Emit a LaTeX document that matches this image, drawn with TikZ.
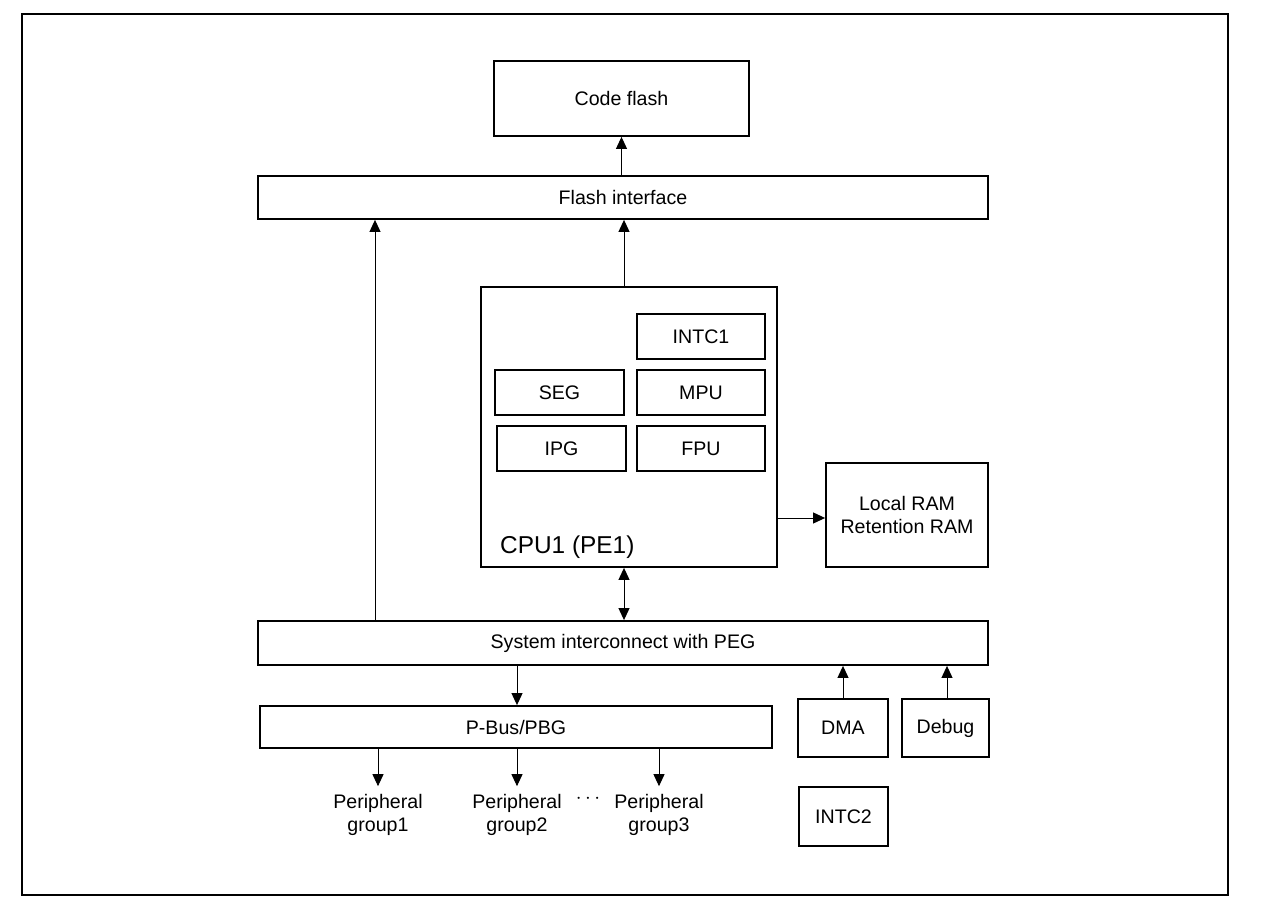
\documentclass[tikz,border=0pt]{standalone}
\usepackage{fontspec}
\setmainfont{Liberation Sans}
\usetikzlibrary{arrows.meta}
\begin{document}
\begin{tikzpicture}[x=1pt,y=-1pt,
  box/.style={draw,line width=1.8pt,inner sep=0pt,font=\fontsize{19.6}{23}\selectfont,align=center},
  ibox/.style={draw,line width=1.4pt,inner sep=0pt,font=\fontsize{19.6}{23}\selectfont,align=center},
  conn/.style={line width=1pt,-{Triangle[length=12pt,width=11pt]}},
  dconn/.style={line width=1pt,{Triangle[length=12pt,width=11pt]}-{Triangle[length=12pt,width=11pt]}},
  lbl/.style={font=\fontsize{19.6}{23}\selectfont,align=center,inner sep=0pt}]
\useasboundingbox (0,0) rectangle (1264,917);
\draw[line width=2pt] (22,14) rectangle (1228,895);
% boxes
\node[box,minimum width=255pt,minimum height=75pt] (cf) at (621.5,98.5) {Code flash};
\node[box,minimum width=730pt,minimum height=43pt] (fi) at (623,197.5) {Flash interface};
\node[box,minimum width=296pt,minimum height=280pt] (cpu) at (629,427) {};
\node[font=\fontsize{24.4}{28}\selectfont,anchor=base west,inner sep=0pt] (cpul) at (500,553) {CPU1 (PE1)};
\node[ibox,minimum width=128pt,minimum height=45pt] (intc1) at (701,336.5) {INTC1};
\node[ibox,minimum width=129pt,minimum height=45pt] (seg) at (559.5,392.5) {SEG};
\node[ibox,minimum width=128pt,minimum height=45pt] (mpu) at (701,392.5) {MPU};
\node[ibox,minimum width=129pt,minimum height=45pt] (ipg) at (561.5,448.5) {IPG};
\node[ibox,minimum width=128pt,minimum height=45pt] (fpu) at (701,448.5) {FPU};
\node[box,minimum width=162pt,minimum height=104pt] (ram) at (907,515) {Local RAM\\Retention RAM};
\node[box,minimum width=730pt,minimum height=44pt] (sys) at (623,643) {System interconnect with PEG};
\node[box,minimum width=512pt,minimum height=42pt] (pbus) at (516,727) {P-Bus/PBG};
\node[box,minimum width=90pt,minimum height=58pt] (dma) at (843,728) {DMA};
\node[box,minimum width=87pt,minimum height=58pt] (dbg) at (945.5,728) {Debug};
\node[box,minimum width=89pt,minimum height=59pt] (intc2) at (843.5,816.5) {INTC2};
\node[lbl] (p1) at (378,815) {Peripheral\\group1};
\node[lbl] (p2) at (517,815) {Peripheral\\group2};
\node[lbl] (p3) at (659,815) {Peripheral\\group3};
\node[lbl] (dots) at (588,799) {$\cdots$};
% connectors
\draw[conn] (fi.north -| cf.south) -- (cf.south);
\draw[conn] (cpu.north -| 624,0) -- (fi.south -| 624,0);
\draw[conn] (sys.north -| 375,0) -- (fi.south -| 375,0);
\draw[conn] (cpu.east |- 0,518) -- (ram.west |- 0,518);
\draw[dconn] (cpu.south -| 624,0) -- (sys.north -| 624,0);
\draw[conn] (sys.south -| 517,0) -- (pbus.north -| 517,0);
\draw[conn] (dma.north) -- (sys.south -| dma.north);
\draw[conn] (dbg.north -| 947,0) -- (sys.south -| 947,0);
\draw[conn] (pbus.south -| p1.north) -- ([yshift=8pt]p1.north);
\draw[conn] (pbus.south -| p2.north) -- ([yshift=8pt]p2.north);
\draw[conn] (pbus.south -| p3.north) -- ([yshift=8pt]p3.north);
\end{tikzpicture}
\end{document}
